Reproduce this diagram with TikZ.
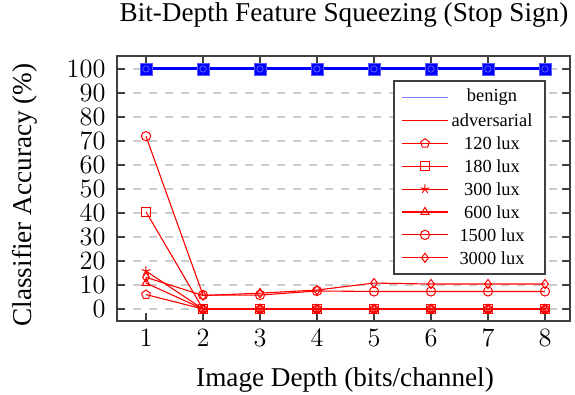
\documentclass[tikz,border=0pt]{standalone}
\usepackage[no-math]{fontspec}
\setmainfont{Liberation Serif}
\usetikzlibrary{plotmarks}

\begin{document}
\begin{tikzpicture}[
  x=0.5pt, y=0.5pt,
  frame/.style={draw=black!75, line width=0.7pt},
  gridline/.style={black!20, line width=0.9pt, dash pattern=on 4pt off 4pt},
  tickline/.style={black!75, line width=0.6pt},
  benignline/.style={blue, line width=1.5pt},
  benignmark/.style={mark options={solid, fill=blue, draw=blue!65, line width=0.4pt}, mark size=3pt},
  advline/.style={red, line width=0.55pt},
  advmark/.style={mark options={solid, red, line width=0.5pt}, mark size=2.3pt},
  ticklab/.style={inner sep=0pt, font=\large, scale=1.1},
  axlab/.style={inner sep=0pt, font=\fontsize{13.6}{16}\selectfont},
  legtext/.style={inner sep=0pt, font=\fontsize{9.2}{11}\selectfont}
]
\useasboundingbox (0,0) rectangle (575,395);

% title and axis labels
\node[axlab, anchor=base] (title) at (344,373) {Bit-Depth Feature Squeezing (Stop Sign)};
\node[axlab, anchor=base] (xlabel) at (345,8) {Image Depth (bits/channel)};
\node[axlab, rotate=90] (ylabel) at (25,200) {Classifier Accuracy (\%)};

% data area: x = bits, y = accuracy
\begin{scope}[x=28.5pt, y=1.2pt, shift={(44.5pt,43pt)}]
  \foreach \v in {0,10,...,100} {
    \draw[gridline] (0.49,\v) -- (8.44,\v);
    \draw[tickline] (0.49,\v) -- ++(4pt,0);
    \draw[tickline] (8.44,\v) -- ++(-4pt,0);
    \node[ticklab, anchor=east, xshift=-5pt] (yt\v) at (0.49,\v) {$\v$};
  }
  \foreach \b in {1,...,8} {
    \draw[tickline] (\b,-5) -- ++(0,4pt);
    \draw[tickline] (\b,105.4) -- ++(0,-4pt);
    \node[ticklab, anchor=base] (xt\b) at (\b,-15.8) {$\b$};
  }

  % benign runs (all at 100)
  \draw[benignline, mark=square*, benignmark] plot coordinates {(1,100) (2,100) (3,100) (4,100) (5,100) (6,100) (7,100) (8,100)};
  \draw[blue!55, line width=0.3pt] plot[only marks, mark=o, mark size=1.6pt] coordinates {(1,100) (2,100) (3,100) (4,100) (5,100) (6,100) (7,100) (8,100)};

  % adversarial runs
  \draw[advline, mark=pentagon, advmark] plot coordinates {(1,6) (2,0) (3,0) (4,0) (5,0) (6,0) (7,0) (8,0)};
  \draw[advline, mark=square, advmark] plot coordinates {(1,40.5) (2,0) (3,0) (4,0) (5,0) (6,0) (7,0) (8,0)};
  \draw[advline, mark=star, advmark] plot coordinates {(1,15.8) (2,0) (3,0) (4,0) (5,0) (6,0) (7,0) (8,0)};
  \draw[advline, mark=triangle, advmark] plot coordinates {(1,10.8) (2,0) (3,0) (4,0) (5,0) (6,0) (7,0) (8,0)};
  \draw[advline, mark=o, advmark] plot coordinates {(1,72) (2,5.8) (3,5.8) (4,7.5) (5,7.3) (6,7.3) (7,7.3) (8,7.3)};
  \draw[advline, mark=diamond, advmark] plot coordinates {(1,13.2) (2,5.6) (3,6.6) (4,7.9) (5,10.8) (6,10.4) (7,10.4) (8,10.4)};

  \draw[frame] (0.49,-5) rectangle (8.44,105.4);
\end{scope}

% legend
\draw[frame, fill=white] (394,121) rectangle (545,314);
\draw[draw=blue!50, line width=0.7pt] (402,297.5) -- (448,297.5);
\node[legtext] (leg0) at (492,297.5) {benign};
\draw[advline] (402,274.6) -- (448,274.6);
\node[legtext] (leg1) at (492,274.6) {adversarial};
\foreach \mk/\lab [count=\i] in {pentagon/120 lux, square/180 lux, star/300 lux, triangle/600 lux, o/1500 lux, diamond/3000 lux} {
  \pgfmathsetmacro\yy{274.6-22.9*\i}
  \draw[advline] (402,\yy) -- (448,\yy);
  \draw[advline, mark=\mk, advmark] plot[only marks] coordinates {(425,\yy)};
  \node[legtext] (leg\i) at (492,\yy) {\lab};
}
\end{tikzpicture}
\end{document}
